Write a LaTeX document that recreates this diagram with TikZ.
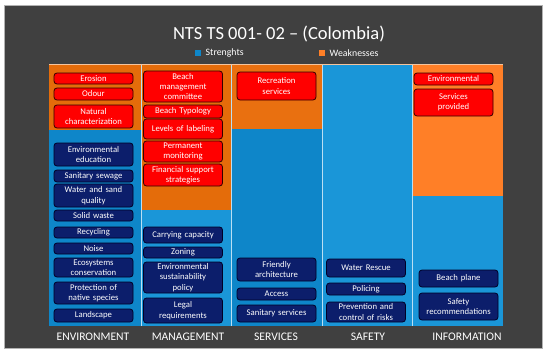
\documentclass[tikz,border=0pt]{standalone}
\usepackage{fontspec}
\setmainfont{Carlito}
\usetikzlibrary{positioning}
\definecolor{bgdark}{HTML}{404040}
\definecolor{wkorange}{HTML}{E46C0A}
\definecolor{wkorangeb}{HTML}{FF7F27}
\definecolor{stblue}{HTML}{0E86C9}
\definecolor{stblueb}{HTML}{1A96D8}
\definecolor{boxred}{HTML}{FF0000}
\definecolor{boxnavy}{HTML}{0C1E6B}

\begin{document}
\begin{tikzpicture}[
    x=1pt, y=-1pt,
    wbox/.style={draw=black!80!red, fill=boxred, rounded corners=3pt, line width=0.8pt, text=white, align=center,
                 inner sep=0.5pt, minimum width=79pt, text width=78pt, font=\fontsize{8.7}{10.4}\selectfont},
    sbox/.style={wbox, draw=black!85!blue, fill=boxnavy},
    axislab/.style={text=white, font=\fontsize{11.6}{13}\selectfont},
    legendkey/.style={fill=#1, minimum size=6pt, inner sep=0pt}
]
    \useasboundingbox (0,0) rectangle (550,356);
    \fill[white] (0,0) rectangle (550,356);
    \fill[bgdark, draw=black!30, line width=0.6pt] (4,5) rectangle (542,348);

    \node[text=white, font=\fontsize{18.5}{20}\selectfont] (title) at (279,34) {NTS TS 001- 02 – (Colombia)};
    \node[legendkey=stblue] (kst) at (198,53) {};
    \node[right=1pt of kst, text=white, font=\fontsize{9.8}{11}\selectfont] (lst) {Strenghts};
    \node[legendkey=wkorangeb] (kwk) at (322,53) {};
    \node[right=1pt of kwk, text=white, font=\fontsize{9.8}{11}\selectfont] (lwk) {Weaknesses};

    \fill[wkorange] (49,64) rectangle (141,130);
    \fill[stblue] (49,130) rectangle (141,326);
    \fill[wkorange] (141,64) rectangle (231,210);
    \fill[stblueb] (141,210) rectangle (231,326);
    \fill[wkorange!80!wkorangeb] (231,64) rectangle (322,129);
    \fill[stblue] (231,129) rectangle (322,326);
    \fill[stblueb] (322,64) rectangle (412,326);
    \fill[wkorangeb] (412,64) rectangle (503,196);
    \fill[stblueb] (412,196) rectangle (503,326);
    \foreach \xs in {141,231,322,412}
        \draw[white!70!stblueb, line width=0.5pt] (\xs,64) -- (\xs,326);
    \draw[white!60!wkorange, line width=0.5pt] (49,64) -- (503,64);

    \node[wbox, minimum height=11pt] (ero) at (93.5,78.5)  {Erosion};
    \node[wbox, minimum height=12pt] (odo) at (93.5,94)    {Odour};
    \node[wbox, minimum height=23pt] (nat) at (93.5,116.5) {Natural\\characterization};
    \node[sbox, minimum height=23pt] (edu) at (93.5,154.5) {Environmental\\education};
    \node[sbox, minimum height=12pt] (sew) at (93.5,176)   {Sanitary sewage};
    \node[sbox, minimum height=23pt] (wsq) at (93.5,195.5) {Water and sand\\quality};
    \node[sbox, minimum height=11pt] (sol) at (93.5,215.5) {Solid waste};
    \node[sbox, minimum height=11pt] (rec) at (93.5,232.5) {Recycling};
    \node[sbox, minimum height=11pt] (noi) at (93.5,248.5) {Noise};
    \node[sbox, minimum height=19pt] (eco) at (93.5,267.5) {Ecosystems\\conservation};
    \node[sbox, minimum height=22pt] (pro) at (93.5,293)   {Protection of\\native species};
    \node[sbox, minimum height=13pt] (lan) at (93.5,315.5) {Landscape};

    \node[wbox, minimum height=31pt] (bmc) at (183,86.5)  {Beach\\management\\committee};
    \node[wbox, minimum height=13pt] (typ) at (183,111.5) {Beach Typology};
    \node[wbox, minimum height=20pt] (lev) at (183,129)   {Levels of labeling};
    \node[wbox, minimum height=21pt] (mon) at (183,151.5) {Permanent\\monitoring};
    \node[wbox, minimum height=22pt] (fin) at (183,175)   {Financial support\\strategies};
    \node[sbox, minimum height=16pt] (car) at (183,235)   {Carrying capacity};
    \node[sbox, minimum height=11pt] (zon) at (183,252.5) {Zoning};
    \node[sbox, minimum height=31pt] (esp) at (183,277.5) {Environmental\\sustainability\\policy};
    \node[sbox, minimum height=25pt] (leg) at (183,310.5) {Legal\\requirements};

    \node[wbox, minimum height=28pt] (rsv) at (276.5,86)    {Recreation\\services};
    \node[sbox, minimum height=23pt] (fra) at (276.5,269.5) {Friendly\\architecture};
    \node[sbox, minimum height=12pt] (acc) at (276.5,294)   {Access};
    \node[sbox, minimum height=17pt] (ssv) at (276.5,313.5) {Sanitary services};

    \node[sbox, minimum height=18pt] (wre) at (366,268) {Water Rescue};
    \node[sbox, minimum height=12pt] (pol) at (366,289) {Policing};
    \node[sbox, minimum height=20pt] (pcr) at (366,312) {Prevention and\\control of risks};

    \node[wbox, minimum height=12pt] (ien) at (453.5,79)    {Environmental};
    \node[wbox, minimum height=27pt] (spr) at (453.5,102.5) {Services\\provided};
    \node[sbox, minimum height=17pt] (bpl) at (458.5,278.5) {Beach plane};
    \node[sbox, minimum height=27pt] (srec) at (458.5,306.5) {Safety\\recommendations};

    \node[axislab] (xenv) at (93,336.5)  {ENVIRONMENT};
    \node[axislab] (xman) at (188,336.5) {MANAGEMENT};
    \node[axislab] (xser) at (276,336.5) {SERVICES};
    \node[axislab] (xsaf) at (368,336.5) {SAFETY};
    \node[axislab] (xinf) at (467,336.5) {INFORMATION};
\end{tikzpicture}
\end{document}
